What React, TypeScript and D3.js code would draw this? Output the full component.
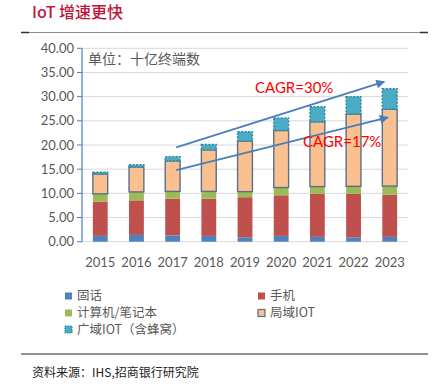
import React from "react";
import * as d3 from "d3";

const years = ["2015", "2016", "2017", "2018", "2019", "2020", "2021", "2022", "2023"];
const fixedLine = [1.2, 1.4, 1.3, 1.2, 0.9, 1.2, 1.0, 0.9, 1.0];
const mobile = [7.1, 7.15, 7.6, 7.7, 8.3, 8.4, 8.9, 9.0, 8.7];
const pcLaptop = [1.6, 1.75, 1.5, 1.5, 1.15, 1.6, 1.5, 1.55, 1.8];
const localIot = [4.1, 5.15, 6.3, 8.6, 10.45, 11.8, 13.4, 14.95, 15.9];
const wideIot = [0.4, 0.45, 0.9, 1.1, 1.95, 2.6, 3.1, 3.6, 4.25];
const yTicks = [0, 5, 10, 15, 20, 25, 30, 35, 40];
const seriesNames = ["固话", "手机", "计算机/笔记本", "局域IOT", "广域IOT（含蜂窝）"];
const arrows = [
  { label: "CAGR=30%", from: [2017.1, 19.5], to: [2022.85, 33.1] },
  { label: "CAGR=17%", from: [2017.1, 14.8], to: [2022.95, 25.7] },
];

const fills = ["#4f81bd", "#c0504d", "#9bbb59", "#fac090", "#4bacc6"];
const strokes = ["none", "none", "none", "#5b6f8a", "#31859c"];

export default function App() {
  const W = 447, H = 386;
  const x = d3.scaleBand().domain(years).range([82, 408]).paddingInner(0.59).paddingOuter(0.3);
  const y = d3.scaleLinear().domain([0, 40]).range([241.7, 48.3]);
  const xNum = (v: number) => {
    const c0 = x(years[0])! + x.bandwidth() / 2;
    return c0 + (v - 2015) * x.step();
  };
  const series = [fixedLine, mobile, pcLaptop, localIot, wideIot];
  const stackData = years.map((yr, i) => {
    const o: any = { year: yr };
    series.forEach((s, k) => (o["s" + k] = s[i]));
    return o;
  });
  const stacked = d3.stack().keys(["s0", "s1", "s2", "s3", "s4"])(stackData);
  const font = "Lato, 'Noto Sans CJK SC', sans-serif";
  const cjk = "'Noto Sans CJK SC', sans-serif";

  const legendPos = [
    [65, 296], [258, 296], [65, 313], [258, 313], [65, 329.5],
  ];

  return (
    <svg width={W} height={H} style={{ position: "absolute", left: 0, top: 0, background: "#fff" }}>
      <defs>
        <marker id="ah" viewBox="0 0 10 10" refX="9" refY="5" markerWidth="5" markerHeight="5" orient="auto">
          <path d="M0,0 L10,5 L0,10 z" fill="#4a7ebb" />
        </marker>
      </defs>
      <text x={32} y={18} fill="#c0143c" fontFamily={cjk} fontSize={16} fontWeight={500}>IoT 增速更快</text>
      <line x1={21} x2={428} y1={32.5} y2={32.5} stroke="#8c8c8c" strokeWidth={1} />
      <line x1={21} x2={29} y1={32.5} y2={32.5} stroke="#333" strokeWidth={1.5} />
      <line x1={420} x2={428} y1={32.5} y2={32.5} stroke="#333" strokeWidth={1.5} />

      {yTicks.map((t) => (
        <g key={t}>
          <line x1={82} x2={408} y1={y(t)} y2={y(t)} stroke="#d9d9d9" strokeWidth={1} />
          <line x1={77} x2={82} y1={y(t)} y2={y(t)} stroke="#4a7ebb" strokeWidth={1} />
          <text x={74} y={y(t)} dy="0.35em" textAnchor="end" fontFamily={font} fontSize={13} fill="#595959">
            {t.toFixed(2)}
          </text>
        </g>
      ))}
      <line x1={82} x2={82} y1={y(40)} y2={y(0)} stroke="#4a7ebb" strokeWidth={1.2} />

      {stacked.map((layer, k) =>
        layer.map((d, i) => {
          const bx = x(years[i])!;
          const y0 = y(d[0]);
          const y1 = y(d[1]);
          return (
            <rect
              key={k + "-" + i}
              x={bx}
              y={y1}
              width={x.bandwidth()}
              height={Math.max(0, y0 - y1)}
              fill={fills[k]}
              stroke={strokes[k]}
              strokeWidth={k >= 3 ? 1.4 : 0}
              strokeDasharray={k === 4 ? "2,1.5" : undefined}
            />
          );
        })
      )}

      {years.map((yr) => (
        <text key={yr} x={x(yr)! + x.bandwidth() / 2} y={262} dy="0.35em" textAnchor="middle" fontFamily={font} fontSize={13} fill="#595959">
          {yr}
        </text>
      ))}

      <text x={88} y={64} fontFamily={cjk} fontSize={14} fill="#595959">单位：十亿终端数</text>

      {arrows.map((a) => (
        <line key={a.label} x1={xNum(a.from[0])} y1={y(a.from[1])} x2={xNum(a.to[0])} y2={y(a.to[1])}
          stroke="#4a7ebb" strokeWidth={1.8} markerEnd="url(#ah)" />
      ))}
      <text x={255} y={93} fontFamily={font} fontSize={15} fill="#ff0000">{arrows[0].label}</text>
      <text x={303} y={147} fontFamily={font} fontSize={15} fill="#ff0000">{arrows[1].label}</text>

      {seriesNames.map((n, k) => {
        const [lx, ly] = legendPos[k];
        return (
          <g key={n}>
            <rect x={lx} y={ly - 3.5} width={7} height={7} fill={fills[k]}
              stroke={strokes[k]} strokeWidth={k >= 3 ? 1.2 : 0} strokeDasharray={k === 4 ? "1.5,1" : undefined} />
            <text x={lx + 12} y={ly} dy="0.35em" fontFamily={cjk} fontSize={12.5} fill="#595959">{n}</text>
          </g>
        );
      })}

      <line x1={21} x2={428} y1={354} y2={354} stroke="#222" strokeWidth={1} />
      <text x={32} y={373} dy="0.35em" fontFamily={cjk} fontSize={12} fill="#222">资料来源：IHS,招商银行研究院</text>
    </svg>
  );
}
